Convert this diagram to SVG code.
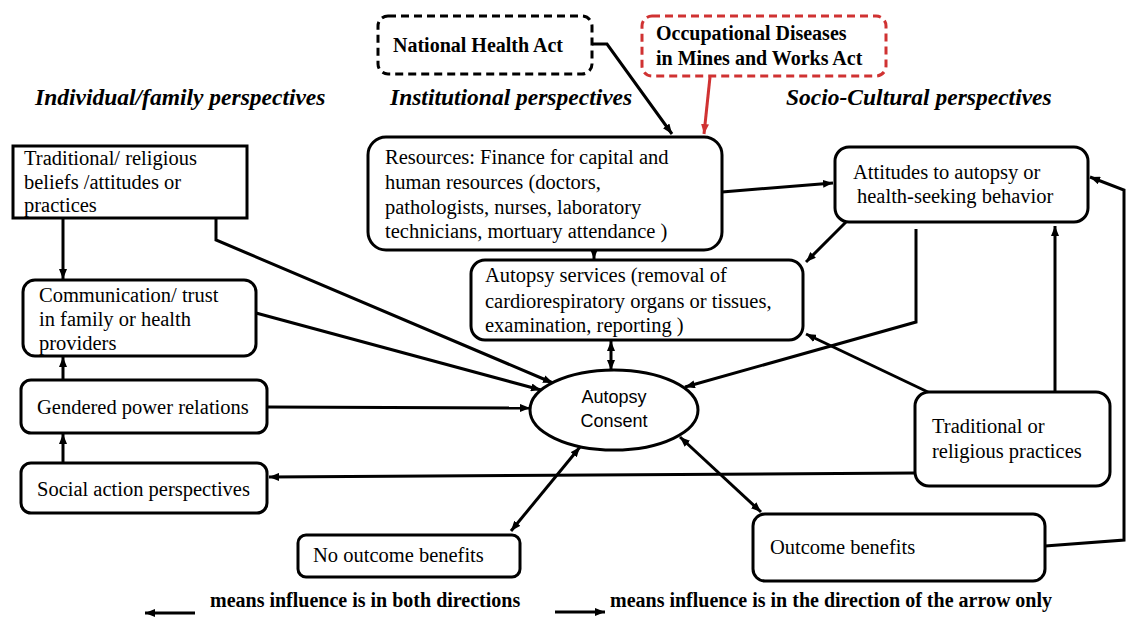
<svg xmlns="http://www.w3.org/2000/svg" width="1126" height="617" viewBox="0 0 1126 617">
<defs>
<marker id="arr" viewBox="0 0 10 8" markerWidth="10" markerHeight="8" refX="10" refY="4" orient="auto-start-reverse" markerUnits="userSpaceOnUse"><path d="M0,0 L10,4 L0,8 z" fill="#000"/></marker>
<marker id="arrRed" viewBox="0 0 10 8" markerWidth="10" markerHeight="8" refX="10" refY="4" orient="auto" markerUnits="userSpaceOnUse"><path d="M0,0 L10,4 L0,8 z" fill="#d03232"/></marker>
<style>
.box{fill:#fff;stroke:#000;stroke-width:3}
.dash{fill:#fff;stroke:#000;stroke-width:3;stroke-dasharray:8 5}
.dashr{fill:#fff;stroke:#d03232;stroke-width:3;stroke-dasharray:8 5}
.t{font-family:"Liberation Serif",serif;font-size:20.5px;fill:#000}
.b{font-family:"Liberation Serif",serif;font-size:20px;font-weight:bold;fill:#000}
.h{font-family:"Liberation Serif",serif;font-size:23.5px;font-weight:bold;font-style:italic;fill:#000}
.s{font-family:"Liberation Sans",sans-serif;font-size:18px;fill:#000}
.c{fill:none;stroke:#000;stroke-width:3}
.e{marker-end:url(#arr)}
.d{marker-start:url(#arr);marker-end:url(#arr)}
</style>
</defs>
<g id="headings">
<text class="h" x="35" y="105">Individual/family perspectives</text>
<text class="h" x="390" y="105">Institutional perspectives</text>
<text class="h" x="786" y="105">Socio-Cultural perspectives</text>
</g>
<g id="connectors">
<path class="c e" d="M592,44 L607,44 L672,134"/>
<path d="M710,77 L704,134" fill="none" stroke="#d03232" stroke-width="3" marker-end="url(#arrRed)"/>
<path class="c e" d="M722,192 L833,183"/>
<path class="c e" d="M594,250 L594,259"/>
<path class="c e" d="M846,222 L806,262"/>
<path class="c e" d="M916,229 L916,322 L685,387"/>
<path class="c e" d="M930,393 L806,334"/>
<path class="c e" d="M1055,392 L1055,226"/>
<path class="c e" d="M915,473 L269,477"/>
<path class="c e" d="M1045,546 L1124,540 L1124,190 L1090,177"/>
<path class="c e" d="M63,218 L63,279"/>
<path class="c e" d="M216,218 L216,240 L553,383"/>
<path class="c e" d="M256,313 L541,390"/>
<path class="c e" d="M267,407 L530,408"/>
<path class="c e" d="M63,463 L63,434"/>
<path class="c e" d="M63,380 L63,357"/>
<path class="c d" d="M611,341 L611,370"/>
<path class="c d" d="M580,447 L511,531"/>
<path class="c d" d="M680,437 L761,512"/>
<path class="c e" d="M195,613 L145,613"/>
<path class="c e" d="M555,612 L605,612"/>
</g>
<g id="national-health-act">
<rect class="dash" x="378" y="16" width="214" height="58" rx="10"/>
<text class="b" x="393" y="52">National Health Act</text>
</g>
<g id="occupational-diseases-act">
<rect class="dashr" x="642" y="16" width="244" height="60" rx="10"/>
<text class="b" x="656" y="40">Occupational Diseases</text>
<text class="b" x="656" y="65">in Mines and Works Act</text>
</g>
<g id="traditional-beliefs">
<rect class="box" x="13" y="146" width="234" height="72"/>
<text class="t" x="24" y="165">Traditional/ religious</text>
<text class="t" x="24" y="189">beliefs /attitudes or</text>
<text class="t" x="24" y="212">practices</text>
</g>
<g id="resources">
<rect class="box" x="368" y="137" width="354" height="113" rx="18"/>
<text class="t" x="385" y="164">Resources: Finance for capital and</text>
<text class="t" x="385" y="189">human resources (doctors,</text>
<text class="t" x="385" y="214">pathologists, nurses, laboratory</text>
<text class="t" x="385" y="238">technicians, mortuary attendance )</text>
</g>
<g id="attitudes">
<rect class="box" x="835" y="147" width="253" height="75" rx="14"/>
<text class="t" x="853" y="179">Attitudes to autopsy or</text>
<text class="t" x="857" y="203">health-seeking behavior</text>
</g>
<g id="autopsy-services">
<rect class="box" x="471" y="260" width="332" height="80" rx="14"/>
<text class="t" x="485" y="282">Autopsy services (removal of</text>
<text class="t" x="485" y="308">cardiorespiratory organs or tissues,</text>
<text class="t" x="485" y="332">examination, reporting )</text>
</g>
<g id="communication">
<rect class="box" x="23" y="280" width="233" height="76" rx="12"/>
<text class="t" x="39" y="302">Communication/ trust</text>
<text class="t" x="39" y="326">in family or health</text>
<text class="t" x="39" y="350">providers</text>
</g>
<g id="gendered-power">
<rect class="box" x="21" y="380" width="246" height="53" rx="10"/>
<text class="t" x="37" y="414">Gendered power relations</text>
</g>
<g id="social-action">
<rect class="box" x="21" y="463" width="246" height="50" rx="10"/>
<text class="t" x="37" y="496">Social action perspectives</text>
</g>
<g id="autopsy-consent">
<ellipse cx="614" cy="410" rx="84" ry="40" fill="#fff" stroke="#000" stroke-width="3"/>
<text class="s" x="614" y="403" text-anchor="middle">Autopsy</text>
<text class="s" x="614" y="427" text-anchor="middle">Consent</text>
</g>
<g id="traditional-practices">
<rect class="box" x="915" y="392" width="195" height="94" rx="14"/>
<text class="t" x="932" y="433">Traditional or</text>
<text class="t" x="932" y="458">religious practices</text>
</g>
<g id="no-outcome-benefits">
<rect class="box" x="298" y="535" width="222" height="42" rx="8"/>
<text class="t" x="313" y="562">No outcome benefits</text>
</g>
<g id="outcome-benefits">
<rect class="box" x="753" y="514" width="292" height="67" rx="12"/>
<text class="t" x="770" y="554">Outcome benefits</text>
</g>
<g id="legend">
<text class="b" x="210" y="607">means influence is in both directions</text>
<text class="b" x="610" y="607">means influence is in the direction of the arrow only</text>
</g>
</svg>
